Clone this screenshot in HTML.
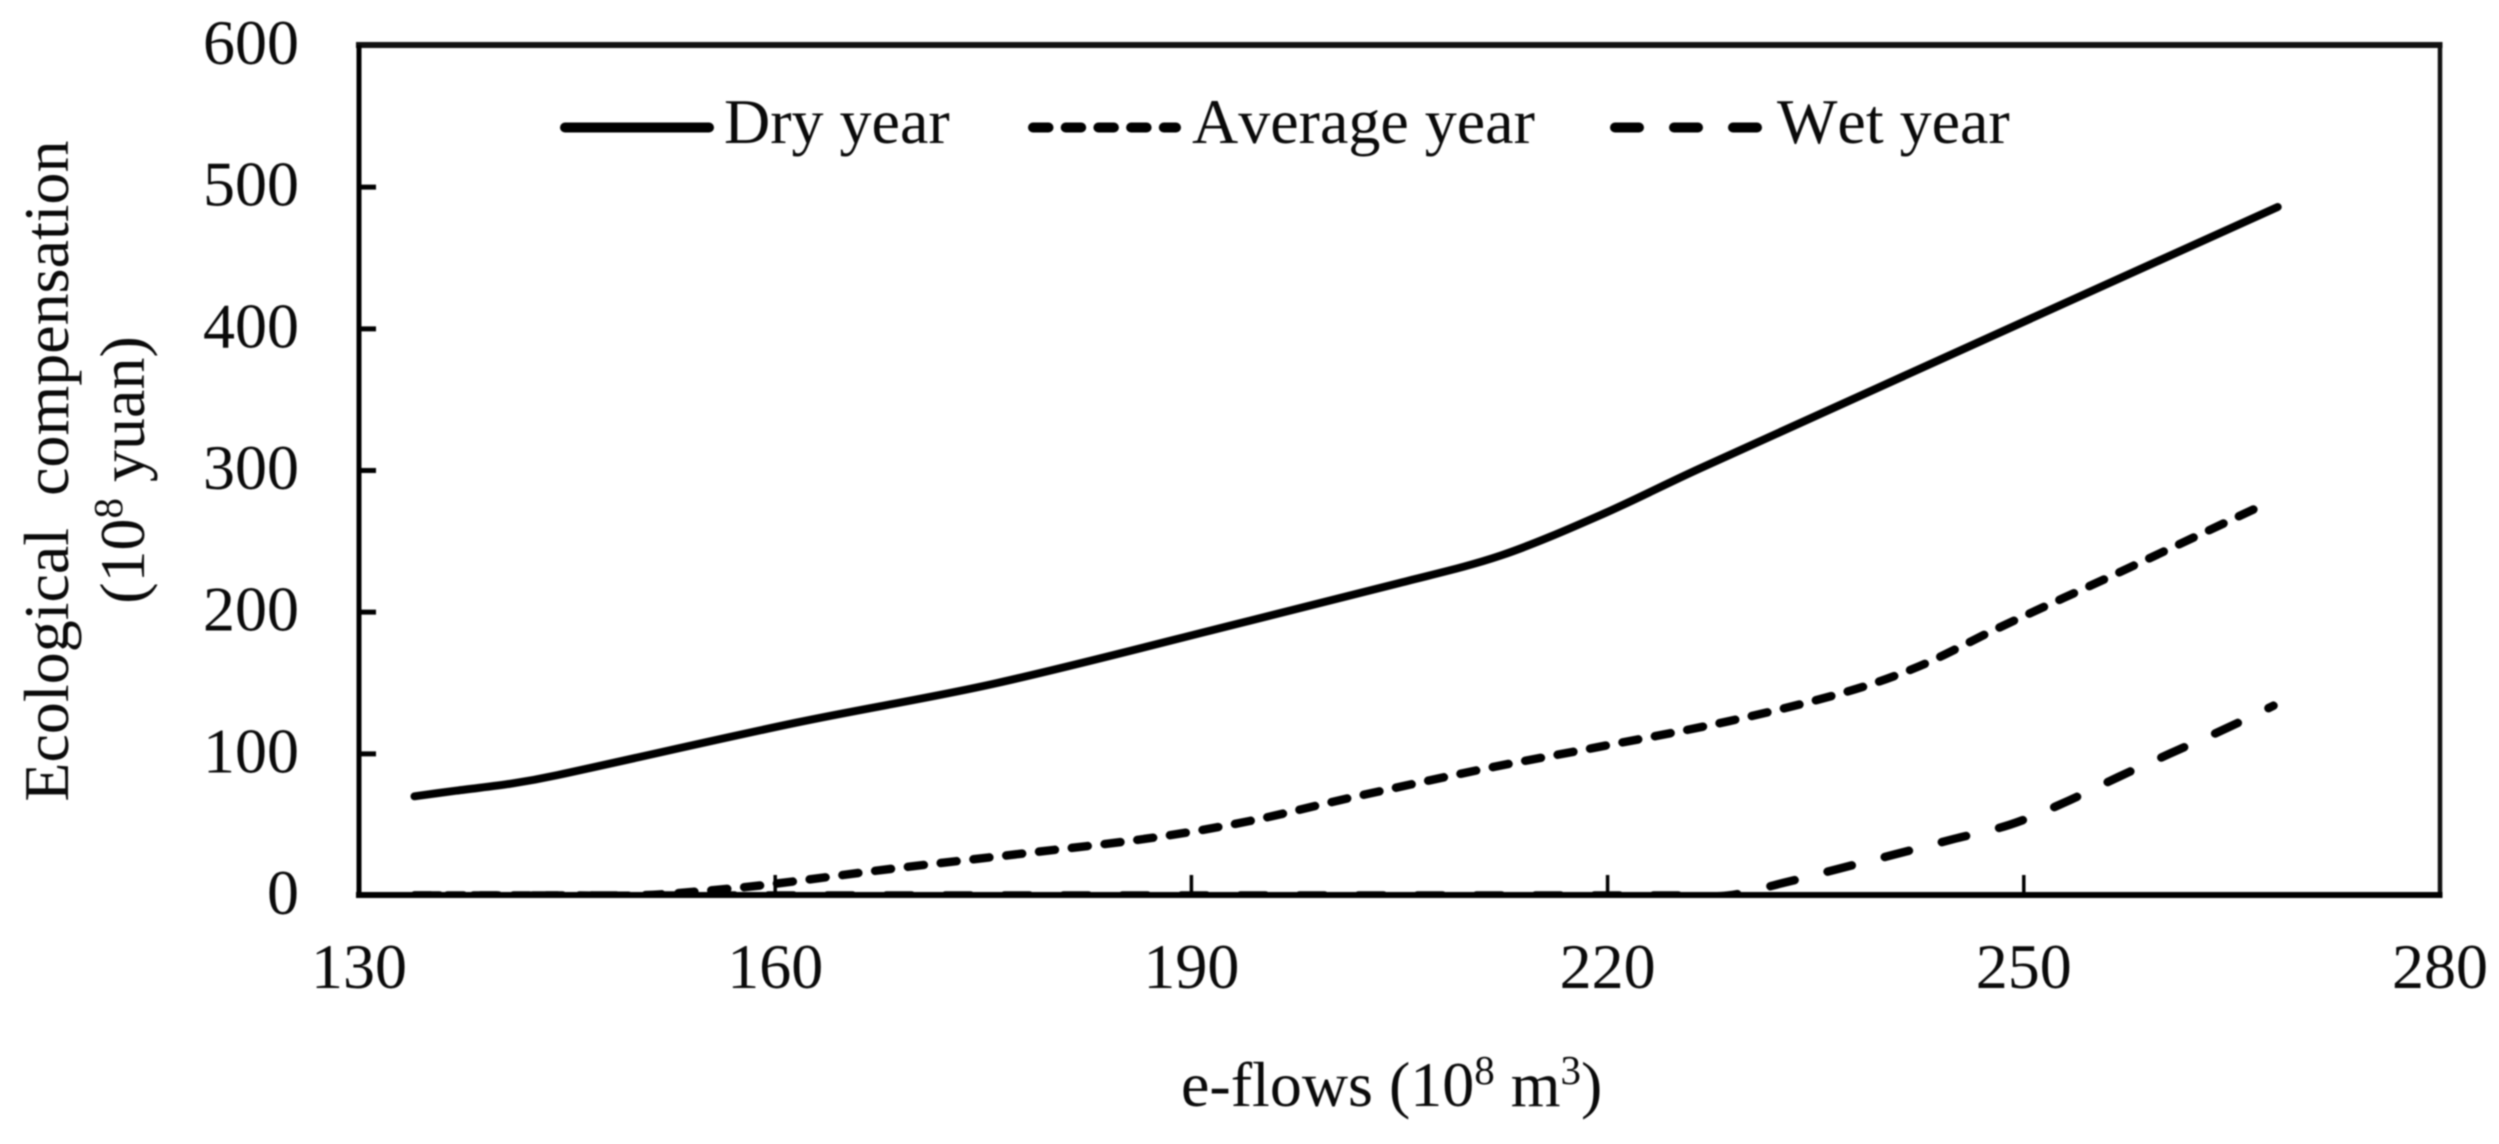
<!DOCTYPE html>
<html lang="en">
<head>
<meta charset="utf-8">
<title>Ecological compensation vs e-flows</title>
<style>
html,body{margin:0;padding:0;background:#fff;}
body{width:2499px;height:1144px;overflow:hidden;}
svg{display:block;filter:blur(0.7px);}
text{font-family:"Liberation Serif","Times New Roman",serif;font-size:64px;fill:#0a0a0a;font-kerning:none;}
</style>
</head>
<body>
<svg id="chart" xmlns="http://www.w3.org/2000/svg" width="2499" height="1144" viewBox="0 0 2499 1144">
  <defs>
    <clipPath id="plot-clip"><rect x="359" y="40" width="2081" height="855"/></clipPath>
  </defs>
  <rect x="0" y="0" width="2499" height="1144" fill="#ffffff"/>
  <g id="series" clip-path="url(#plot-clip)"></g>
  <g id="axes"></g>
  <g>
    <line x1="565" y1="127.5" x2="709" y2="127.5" stroke="#000" stroke-width="10" stroke-linecap="round"/>
    <text x="724" y="143">Dry year</text>
    <line x1="1033" y1="127.5" x2="1176" y2="127.5" stroke="#000" stroke-width="10" stroke-linecap="round" stroke-dasharray="15.5 17.2"/>
    <text x="1192" y="143">Average year</text>
    <line x1="1615" y1="127.5" x2="1757" y2="127.5" stroke="#000" stroke-width="10" stroke-linecap="round" stroke-dasharray="24 35"/>
    <text x="1777" y="143">Wet year</text>
  </g>
  <text transform="translate(68 471) rotate(-90)" text-anchor="middle" xml:space="preserve">Ecological  compensation</text>
  <text transform="translate(144 470) rotate(-90)" text-anchor="middle">(10<tspan font-size="41" dy="-22">8</tspan><tspan dy="22"> yuan)</tspan></text>
  <text x="1181" y="1106">e-flows (10<tspan font-size="41" dy="-22">8</tspan><tspan dy="22"> m</tspan><tspan font-size="41" dy="-22">3</tspan><tspan dy="22">)</tspan></text>
</svg>
<script>
var xTicks = [130, 160, 190, 220, 250, 280];
var yTicks = [0, 100, 200, 300, 400, 500, 600];

var dryX = [134, 137, 141, 144.3, 161.5, 176, 194.2, 205, 212.3, 219.5, 226.7, 268.3];
var dryY = [70, 74, 79, 85, 122, 150, 194, 220.6, 240, 268.6, 301.7, 486];

var avgX = [134, 145, 150, 154, 159.3, 168.5, 178.8, 187.4, 194.2, 201.7, 211.4, 218.9, 228.7, 237.3, 242.5, 248.2, 256.2, 267.1];
var avgY = [0, 0, 0, 2.5, 7.5, 19, 30.7, 41, 52.6, 69.5, 90, 104, 123, 144, 162, 189, 225, 275];

var wetX = [134, 180, 225, 228.7, 232.7, 236.7, 240.7, 245, 249, 252.8, 256.8, 260.5, 264.6, 268];
var wetY = [0, 0, 0, 0, 9, 19, 29, 40, 50, 65, 83.6, 100, 118, 134];

var NS = 'http://www.w3.org/2000/svg';
var seriesGroup = document.getElementById('series');
var axesGroup = document.getElementById('axes');

function xScale(v) { return 359 + (v - 130) * (2440 - 359) / 150; }
function yScale(v) { return 895.5 - v * (895.5 - 45.5) / 600; }

function make(tag, attrs, parent) {
  var el = document.createElementNS(NS, tag);
  for (var k in attrs) { el.setAttribute(k, attrs[k]); }
  parent.appendChild(el);
  return el;
}

function smoothPath(xs, ys) {
  var p = xs.map(function (x, i) { return [xScale(x), yScale(ys[i])]; });
  var n = p.length;
  var m = p.map(function (pt, i) {
    var a = p[Math.max(i - 1, 0)], b = p[Math.min(i + 1, n - 1)];
    return (b[1] - a[1]) / (b[0] - a[0]);
  });
  var d = 'M' + p[0][0].toFixed(1) + ' ' + p[0][1].toFixed(1);
  for (var i = 0; i < n - 1; i++) {
    var h = (p[i + 1][0] - p[i][0]) / 3;
    d += ' C' + (p[i][0] + h).toFixed(1) + ' ' + (p[i][1] + m[i] * h).toFixed(1) + ' ' +
         (p[i + 1][0] - h).toFixed(1) + ' ' + (p[i + 1][1] - m[i + 1] * h).toFixed(1) + ' ' +
         p[i + 1][0].toFixed(1) + ' ' + p[i + 1][1].toFixed(1);
  }
  return d;
}

var dryLine = make('path', {d: smoothPath(dryX, dryY), fill: 'none', stroke: '#000', 'stroke-width': 8, 'stroke-linecap': 'round', 'stroke-linejoin': 'round'}, seriesGroup);



var avgLine = make('path', {d: smoothPath(avgX, avgY), fill: 'none', stroke: '#000', 'stroke-width': 8.5, 'stroke-linecap': 'round', 'stroke-dasharray': '16 17'}, seriesGroup);



var wetLine = make('path', {d: smoothPath(wetX, wetY), fill: 'none', stroke: '#000', 'stroke-width': 8.5, 'stroke-linecap': 'round', 'stroke-dasharray': '25 34'}, seriesGroup);



var frameTop = make('line', {x1: 356, y1: 45, x2: 2442.5, y2: 45, stroke: '#111', 'stroke-width': 6}, axesGroup);



var frameRight = make('line', {x1: 2440, y1: 45, x2: 2440, y2: 895, stroke: '#111', 'stroke-width': 4.5}, axesGroup);



var yAxisLine = make('line', {x1: 359, y1: 45, x2: 359, y2: 895, stroke: '#000', 'stroke-width': 5}, axesGroup);



var xAxisLine = make('line', {x1: 356, y1: 895, x2: 2442.5, y2: 895, stroke: '#000', 'stroke-width': 6}, axesGroup);



xTicks.forEach(function (t) {
  var px = xScale(t);
  if (t !== xTicks[0] && t !== xTicks[xTicks.length - 1]) {
    var tick = make('line', {x1: px, y1: 875, x2: px, y2: 895, stroke: '#000', 'stroke-width': 3.5}, axesGroup);
    
    
  }
  var label = make('text', {x: px, y: 988, 'text-anchor': 'middle'}, axesGroup);
  
  
  label.textContent = String(t);
});

yTicks.forEach(function (t) {
  var py = yScale(t);
  if (t !== yTicks[0] && t !== yTicks[yTicks.length - 1]) {
    var tick = make('line', {x1: 359, y1: py, x2: 376, y2: py, stroke: '#000', 'stroke-width': 5}, axesGroup);
    
    
  }
  var label = make('text', {x: 299, y: py + 18.5, 'text-anchor': 'end'}, axesGroup);
  
  
  label.textContent = String(t);
});
</script>
</body>
</html>
